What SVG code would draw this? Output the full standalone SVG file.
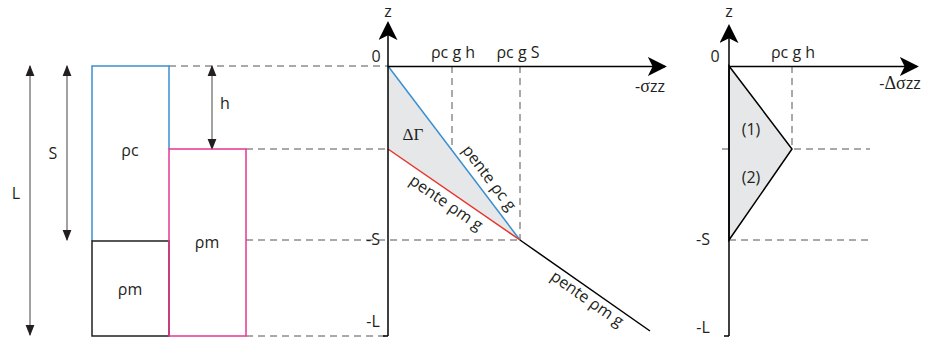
<svg xmlns="http://www.w3.org/2000/svg" width="930" height="338" viewBox="0 0 930 338">
<defs>
<marker id="ah" viewBox="0 0 10 10" refX="9" refY="5" markerWidth="11" markerHeight="11" markerUnits="userSpaceOnUse" orient="auto-start-reverse"><path d="M0,1 L10,5 L0,9 z" fill="#231f20"/></marker>
<marker id="axh" viewBox="0 0 10 10" refX="9" refY="5" markerWidth="19" markerHeight="19" markerUnits="userSpaceOnUse" orient="auto"><path d="M0,0 L10,5 L0,10 L2.5,5 z" fill="#000"/></marker>
</defs>
<style>
text{font-family:"Open Sans","Liberation Sans",sans-serif;font-size:16px;fill:#231f20}
.sf{font-family:"Liberation Serif","DejaVu Serif",serif}
.dash{stroke:#555;stroke-width:1;stroke-dasharray:7,5;fill:none}
.ax{stroke:#000;stroke-width:1.5;fill:none}
.dim{stroke:#444;stroke-width:1;fill:none}
.mid{text-anchor:middle}
</style>
<rect width="930" height="338" fill="#fff"/>
<g id="connectors">
<line class="dash" x1="169" y1="66" x2="388" y2="66"/>
<line class="dash" x1="246" y1="149" x2="452" y2="149"/>
<line class="dash" x1="246" y1="240" x2="520" y2="240"/>
<line class="dash" x1="246" y1="336" x2="388" y2="336"/>
<line class="dash" x1="452" y1="66" x2="452" y2="149"/>
<line class="dash" x1="520" y1="66" x2="520" y2="240"/>
<line class="dash" x1="722" y1="149" x2="870" y2="149"/>
<line class="dash" x1="729" y1="240" x2="870" y2="240"/>
<line class="dash" x1="792" y1="66" x2="792" y2="149"/>
<line class="dim" x1="30" y1="66" x2="30" y2="335" marker-start="url(#ah)" marker-end="url(#ah)"/>
<line class="dim" x1="67" y1="66" x2="67" y2="240" marker-start="url(#ah)" marker-end="url(#ah)"/>
<line class="dim" x1="212" y1="66" x2="212" y2="149" marker-start="url(#ah)" marker-end="url(#ah)"/>
</g>
<g id="columns">
<path d="M169,149 L169,66 L92,66 L92,241" fill="none" stroke="#3a8fd1" stroke-width="1.5"/>
<rect x="92" y="241" width="77" height="95" fill="none" stroke="#231f20" stroke-width="1.5"/>
<rect x="169" y="149" width="77" height="187" fill="none" stroke="#e8378f" stroke-width="1.5"/>
<text x="130" y="156" class="mid">ρc</text>
<text x="130" y="295" class="mid">ρm</text>
<text x="207" y="248" class="mid">ρm</text>
<text x="53" y="159" class="mid">S</text>
<text x="16" y="199" class="mid">L</text>
<text x="225" y="109" class="mid">h</text>
</g>
<g id="graph-sigma">
<polygon points="388,66 520,240 388,149" fill="#e6e7e8"/>
<line x1="388" y1="66" x2="520" y2="240" stroke="#3a8fd1" stroke-width="1.5"/>
<line x1="388" y1="149" x2="520" y2="240" stroke="#e5332a" stroke-width="1.5"/>
<line x1="520" y1="240" x2="650" y2="331" stroke="#000" stroke-width="1.5"/>
<line class="ax" x1="388" y1="336" x2="388" y2="23" marker-end="url(#axh)"/>
<line class="ax" x1="388" y1="66.5" x2="665" y2="66.5" marker-end="url(#axh)"/>
<line class="ax" x1="383" y1="336" x2="388" y2="336"/>
<text x="388" y="17" class="mid">z</text>
<text x="376" y="62" class="mid">0</text>
<text x="453" y="58" class="mid">ρc g h</text>
<text x="518" y="58" class="mid">ρc g S</text>
<text x="650" y="92" class="mid">-<tspan class="sf" font-size="18">σ</tspan>zz</text>
<text x="373" y="245" class="mid">-S</text>
<text x="373" y="327" class="mid">-L</text>
<text x="413" y="140" class="mid"><tspan class="sf" font-size="17">ΔΓ</tspan></text>
<text transform="translate(489,178) rotate(52.8)" x="0" y="5" class="mid">pente ρc g</text>
<text transform="translate(446,203) rotate(34.6)" x="0" y="5" class="mid">pente ρm g</text>
<text transform="translate(587,299) rotate(35)" x="0" y="5" class="mid">pente ρm g</text>
</g>
<g id="graph-delta">
<polygon points="729,66 792,149 729,240" fill="#e6e7e8" stroke="#000" stroke-width="1.5"/>
<line class="ax" x1="729" y1="336" x2="729" y2="26" marker-end="url(#axh)"/>
<line class="ax" x1="729" y1="66.5" x2="917" y2="66.5" marker-end="url(#axh)"/>
<line class="ax" x1="724" y1="336" x2="729" y2="336"/>
<text x="729" y="17" class="mid">z</text>
<text x="715" y="62" class="mid">0</text>
<text x="793" y="58" class="mid">ρc g h</text>
<text x="900" y="89" class="mid">-<tspan class="sf" font-size="18">Δσ</tspan>zz</text>
<text x="751" y="135" class="mid">(1)</text>
<text x="751" y="183" class="mid">(2)</text>
<text x="703" y="245" class="mid">-S</text>
<text x="703" y="333" class="mid">-L</text>
</g>
</svg>
